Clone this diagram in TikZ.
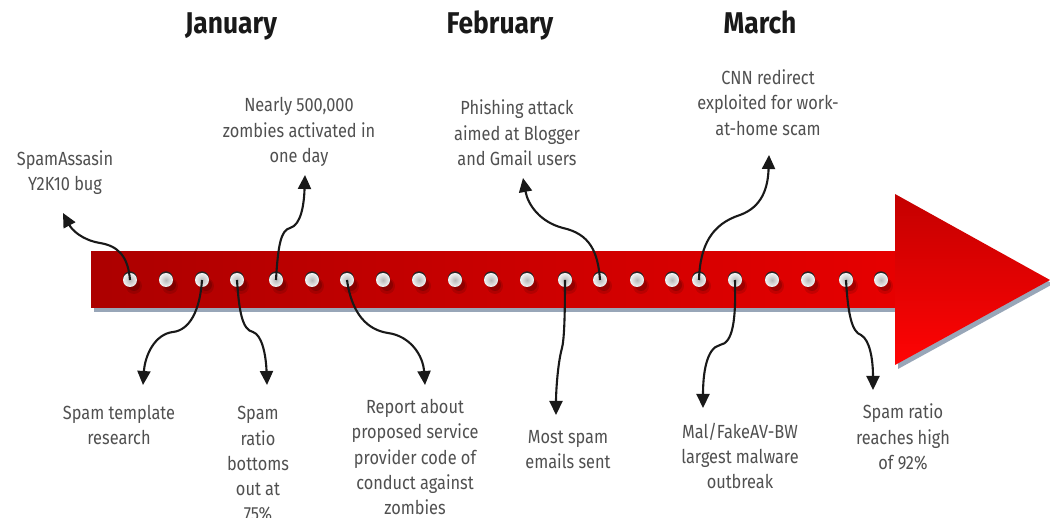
\documentclass[tikz,border=0pt]{standalone}
\usepackage{fontspec}
\usetikzlibrary{arrows.meta}
\newfontfamily\bodyfont{Fira Sans}[FakeStretch=0.86]
\newfontfamily\monthfont{Fira Sans}[FakeStretch=0.88]
\definecolor{txt}{HTML}{505050}
\definecolor{arrowL}{HTML}{AC0000}
\definecolor{arrowR}{HTML}{E60000}
\definecolor{headT}{HTML}{C40000}
\definecolor{headB}{HTML}{FF0404}
\definecolor{shadowc}{HTML}{98A6B8}
\begin{document}
\begin{tikzpicture}[x=1pt,y=-1pt,
  event/.style={font=\bodyfont\fontsize{19}{25.3}\selectfont, text=txt, align=center, inner sep=0pt},
  month/.style={font=\monthfont\bfseries\fontsize{30}{32}\selectfont, text=black!90, anchor=base, inner sep=0pt},
  dot/.style={circle, minimum size=14pt, inner sep=0pt, inner color=black!28, outer color=black!5},
  link/.style={line width=2.1pt, draw=black!90, -{Triangle[width=13pt,length=14pt]}},
]
\useasboundingbox[fill=white] (0,0) rectangle (1050,518);

% shadow of the timeline arrow
\fill[shadowc] (94,256) rectangle (898,312);
\fill[shadowc] (898,198) -- (1053,284) -- (898,369) -- cycle;
% timeline arrow: shaft and head
\shade[left color=arrowL, right color=arrowR] (91,252) rectangle (896,308);
\shade[top color=headT, bottom color=headB] (895,194) -- (1050,280) -- (895,365) -- cycle;

% rivets along the shaft
\foreach \x [count=\i] in {130,166,202,237,276,312,347,383,419,455,491,527,565,600,637,672,699,735,772,808,846,881} {
  \fill[black, opacity=.12] ({\x+4},286) circle (8);
  \fill[black, opacity=.18] ({\x+4},285) circle (6);
  \fill[black!85] (\x,278.3) circle (7);
  \node[dot] (d\i) at (\x,280) {};
}

% month headings
\node[month] (m1) at (231,34) {January};
\node[month] (m2) at (500,34) {February};
\node[month] (m3) at (760,34) {March};

% event texts
\node[event] (e1) at (65,172.5) {SpamAssasin\\Y2K10 bug};
\node[event] (e2) at (299,132) {Nearly 500,000\\zombies activated in\\one day};
\node[event] (e3) at (517,133) {Phishing attack\\aimed at Blogger\\and Gmail users};
\node[event] (e4) at (768,102.5) {CNN redirect\\exploited for work-\\at-home scam};
\node[event] (e5) at (119,425) {Spam template\\research};
\node[event] (e6) at (258,464) {Spam\\ratio\\bottoms\\out at\\75\%};
\node[event] (e7) at (415,457) {Report about\\proposed service\\provider code of\\conduct against\\zombies};
\node[event] (e8) at (568,449.5) {Most spam\\emails sent};
\node[event] (e9) at (740,456) {Mal/FakeAV-BW\\largest malware\\outbreak};
\node[event] (e10) at (903,437) {Spam ratio\\reaches high\\of 92\%};

% arrow tips of the callouts
\coordinate (t1) at (63,213);
\coordinate (t2) at (305,175);
\coordinate (t3) at (523,178);
\coordinate (t4) at (769,155);
\coordinate (t5) at (143,385);
\coordinate (t6) at (267,385);
\coordinate (t7) at (425,385);
\coordinate (t8) at (556,415);
\coordinate (t9) at (703,408);
\coordinate (t10) at (873,390);

% callouts from rivets to events
\draw[link] (d1.center) .. controls (128,256) and (118,246) .. (100,243) .. controls (82,240) and (72,230) .. (t1);
\draw[link] (d5.center) .. controls (278,245) and (281,230) .. (290,228) .. controls (301,225) and (304,205) .. (t2);
\draw[link] (d14.center) .. controls (598,252) and (590,234) .. (563,228) .. controls (540,222) and (528,205) .. (t3);
\draw[link] (d17.center) .. controls (700,245) and (712,224) .. (740,215) .. controls (762,207) and (768,188) .. (t4);
\draw[link] (d3.center) .. controls (200,310) and (190,330) .. (173,332) .. controls (155,334) and (145,355) .. (t5);
\draw[link] (d4.center) .. controls (239,310) and (242,330) .. (253,332) .. controls (262,335) and (266,355) .. (t6);
\draw[link] (d7.center) .. controls (352,315) and (368,330) .. (388,333) .. controls (410,336) and (423,355) .. (t7);
\draw[link] (d13.center) .. controls (565,320) and (564,340) .. (562,348) .. controls (558,362) and (556,390) .. (t8);
\draw[link] (d18.center) .. controls (736,320) and (733,343) .. (720,345) .. controls (706,348) and (703,375) .. (t9);
\draw[link] (d21.center) .. controls (848,315) and (852,332) .. (861,335) .. controls (870,340) and (873,360) .. (t10);
\end{tikzpicture}
\end{document}
